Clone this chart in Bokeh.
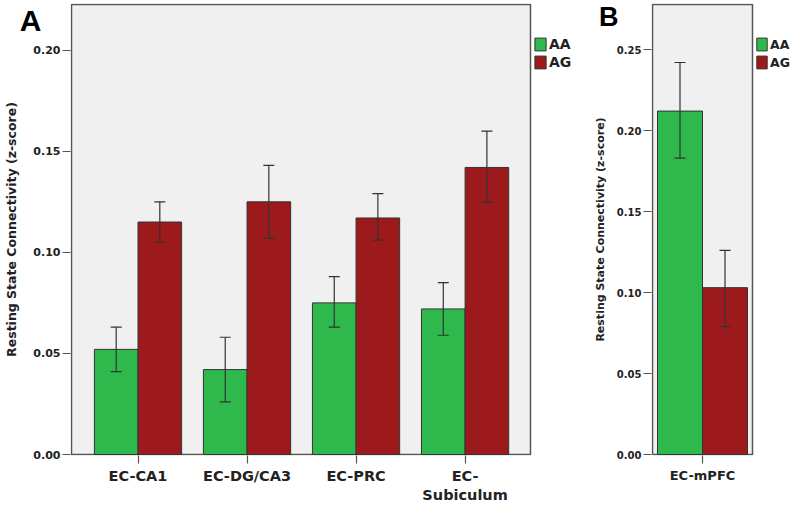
from bokeh.plotting import figure
from bokeh.models import (ColumnDataSource, Whisker, TeeHead, Legend, LegendItem,
                          FixedTicker, LinearAxis, Range1d, PrintfTickFormatter)
from bokeh.layouts import row
from bokeh.embed import file_html
from bokeh.resources import INLINE

# ---------------- data ----------------
groups = ["AA", "AG"]

categories_a = ["EC-CA1", "EC-DG/CA3", "EC-PRC", "EC-\nSubiculum"]
aa_a = [0.052, 0.042, 0.075, 0.072]
aa_a_low = [0.041, 0.026, 0.063, 0.059]
aa_a_high = [0.063, 0.058, 0.088, 0.085]
ag_a = [0.115, 0.125, 0.117, 0.142]
ag_a_low = [0.105, 0.107, 0.106, 0.125]
ag_a_high = [0.125, 0.143, 0.129, 0.160]
y_ticks_a = [0.00, 0.05, 0.10, 0.15, 0.20]

categories_b = ["EC-mPFC"]
aa_b = [0.212]
aa_b_low = [0.183]
aa_b_high = [0.242]
ag_b = [0.103]
ag_b_low = [0.079]
ag_b_high = [0.126]
y_ticks_b = [0.00, 0.05, 0.10, 0.15, 0.20, 0.25]

y_title = "Resting State Connectivity (z-score)"
panel_letters = ["A", "B"]

# ---------------- style ----------------
GREEN = "#2fb84b"
RED = "#9d1a1c"
BG = "#f0f0f0"
FRAME = "#555555"
TXT = "#222222"
FONT = "DejaVu Sans"


def make_panel(cats, aa, aa_lo, aa_hi, ag, ag_lo, ag_hi, yticks, y_end,
               x_lo_pad, x_hi_pad, bar_w, bl, bt, bb, box_w, frame_w, frame_h,
               legend_top, letter, letter_size, letter_down, letter_standoff,
               title_size, title_standoff, tick_size, xlab_size, legend_size,
               glyph_w):
    pos = [i + 1 for i in range(len(cats))]
    x0, x1 = pos[0] - x_lo_pad, pos[-1] + x_hi_pad
    box_h = frame_h - 2
    u = (x1 - x0) / box_w          # data units per pixel (x)
    v = y_end / box_h              # data units per pixel (y)
    p = figure(frame_width=frame_w, frame_height=frame_h, output_backend="svg",
               toolbar_location=None,
               x_range=Range1d(x0 - u, x0 - u + frame_w * u),
               y_range=Range1d(-v, y_end + v),
               min_border_left=bl, min_border_right=0, min_border_top=bt,
               min_border_bottom=bb)
    p.background_fill_color = "white"
    p.border_fill_color = "white"
    p.outline_line_color = None
    p.grid.visible = False

    # plot area box
    p.quad(left=[x0], right=[x1], bottom=[0], top=[y_end], fill_color=BG,
           line_color=FRAME, line_width=1.5)

    src_aa = ColumnDataSource(dict(x=[q - bar_w / 2 for q in pos], top=aa, lo=aa_lo, hi=aa_hi))
    src_ag = ColumnDataSource(dict(x=[q + bar_w / 2 for q in pos], top=ag, lo=ag_lo, hi=ag_hi))
    r_aa = p.vbar(x="x", top="top", width=bar_w, source=src_aa, fill_color=GREEN,
                  line_color="#333333", line_width=1)
    r_ag = p.vbar(x="x", top="top", width=bar_w, source=src_ag, fill_color=RED,
                  line_color="#333333", line_width=1)
    for s in (src_aa, src_ag):
        w = Whisker(base="x", upper="hi", lower="lo", source=s, line_color="#333333",
                    line_width=1.2, level="overlay",
                    upper_head=TeeHead(size=11, line_color="#333333", line_width=1.2),
                    lower_head=TeeHead(size=11, line_color="#333333", line_width=1.2))
        p.add_layout(w)

    # axes
    p.xaxis.ticker = FixedTicker(ticks=pos)
    p.xaxis.major_label_overrides = {q: c for q, c in zip(pos, cats)}
    p.yaxis.ticker = FixedTicker(ticks=yticks)
    p.yaxis.formatter = PrintfTickFormatter(format="%.2f")
    for ax in (p.xaxis, p.yaxis):
        ax.axis_line_color = None
        ax.major_tick_line_color = FRAME
        ax.major_tick_line_width = 1.2
        ax.major_tick_out = 8
        ax.major_tick_in = 0
        ax.minor_tick_line_color = None
        ax.major_label_text_font = FONT
        ax.major_label_text_font_style = "bold"
        ax.major_label_text_color = TXT
    p.xaxis.major_label_text_font_size = xlab_size
    p.xaxis.major_label_standoff = 4
    p.yaxis.major_label_text_font_size = tick_size
    p.yaxis.major_label_standoff = 2

    # outer left axis: panel letter (as its only tick label) + axis title
    letter_y = y_end + v - letter_down * v
    outer = LinearAxis(ticker=FixedTicker(ticks=[letter_y]),
                       formatter=PrintfTickFormatter(format=letter))
    outer.axis_line_color = None
    outer.major_tick_line_color = None
    outer.minor_tick_line_color = None
    outer.major_tick_out = 0
    outer.major_tick_in = 0
    outer.major_label_standoff = letter_standoff
    outer.major_label_text_font = "Liberation Sans"
    outer.major_label_text_font_style = "bold"
    outer.major_label_text_font_size = letter_size
    outer.major_label_text_color = "black"
    outer.axis_label = y_title
    outer.axis_label_text_font = FONT
    outer.axis_label_text_font_style = "bold"
    outer.axis_label_text_font_size = title_size
    outer.axis_label_text_color = TXT
    outer.axis_label_standoff = title_standoff
    p.add_layout(outer, "left")

    legend = Legend(items=[LegendItem(label=groups[0], renderers=[r_aa]),
                           LegendItem(label=groups[1], renderers=[r_ag])],
                    location=(1 + box_w + 3, frame_h - 1 - legend_top - 32),
                    orientation="vertical")
    legend.margin = 0
    legend.padding = 0
    legend.spacing = 2
    legend.glyph_height = 16
    legend.glyph_width = glyph_w
    legend.label_height = 16
    legend.label_standoff = 2
    legend.border_line_color = None
    legend.background_fill_alpha = 0
    legend.label_text_font = FONT
    legend.label_text_font_style = "bold"
    legend.label_text_font_size = legend_size
    legend.label_text_color = TXT
    p.add_layout(legend)
    return p


pa = make_panel(categories_a, aa_a, aa_a_low, aa_a_high, ag_a, ag_a_low, ag_a_high,
                y_ticks_a, 0.2226, 0.61, 0.6, 0.4,
                bl=62, bt=3, bb=48, box_w=459, frame_w=502, frame_h=452, legend_top=34,
                letter=panel_letters[0], letter_size="30px", letter_down=17,
                letter_standoff=-11, title_size="12.5px", title_standoff=-2,
                tick_size="11px", xlab_size="14.5px", legend_size="14px", glyph_w=14)
pb = make_panel(categories_b, aa_b, aa_b_low, aa_b_high, ag_b, ag_b_low, ag_b_high,
                y_ticks_b, 0.2778, 0.5, 0.5, 0.45,
                bl=79, bt=3, bb=48, box_w=100, frame_w=139, frame_h=452, legend_top=34,
                letter=panel_letters[1], letter_size="27px", letter_down=11,
                letter_standoff=-5, title_size="11px", title_standoff=-11,
                tick_size="10px", xlab_size="13px", legend_size="12.5px", glyph_w=13)

layout = row(pa, pb)
open("out.html", "w").write(file_html(layout, INLINE))
